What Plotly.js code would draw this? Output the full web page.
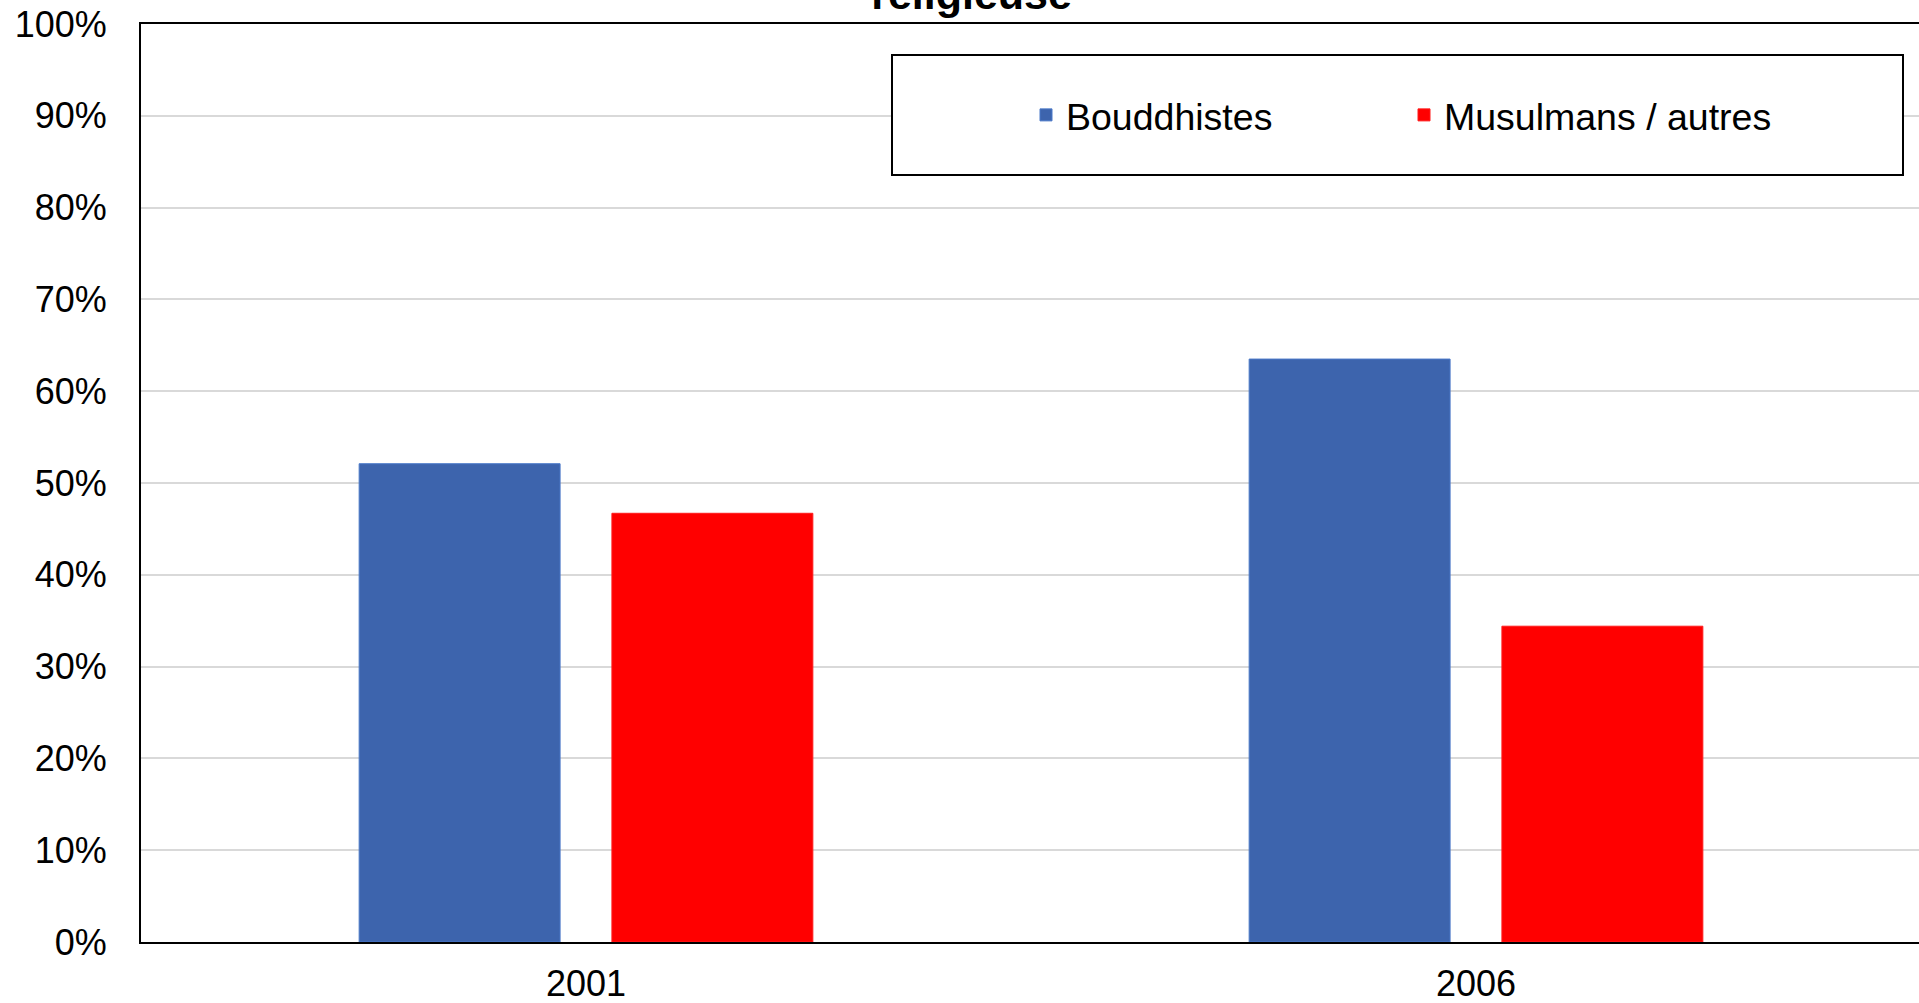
<!DOCTYPE html>
<html>
<head>
<meta charset="utf-8">
<script src="https://cdn.plot.ly/plotly-3.0.1.min.js"></script>
<style>
html,body{margin:0;padding:0;overflow:hidden;background:#fff;width:1919px;height:1003px;}
#chart{position:absolute;left:0;top:-60px;width:1930px;height:1063px;}
</style>
</head>
<body>
<div id="chart"></div>
<script>
const years = ['2001', '2006'];
const bouddhistes = [52.1, 63.5];
const musulmans = [46.7, 34.4];
const seriesNames = ['Bouddhistes', 'Musulmans / autres'];
const yTicks = [0, 10, 20, 30, 40, 50, 60, 70, 80, 90, 100];
const titleText = 'religieuse';

const FONT = 'Arial, "Liberation Sans", sans-serif';

const traces = [
  {type: 'bar', name: seriesNames[0], x: years, y: bouddhistes,
   marker: {color: '#3D64AD', line: {color: '#4A78C8', width: 1}}},
  {type: 'bar', name: seriesNames[1], x: years, y: musulmans,
   marker: {color: '#FF0000', line: {color: '#FF1A1A', width: 1}}}
];

const layout = {
  width: 1930, height: 1063,
  margin: {l: 141, r: 9, t: 84, b: 61},
  paper_bgcolor: '#ffffff', plot_bgcolor: '#ffffff',
  font: {family: FONT, size: 36, color: '#000000'},
  title: {text: '<b>' + titleText + '</b>', font: {family: FONT, size: 43, color: '#000000'},
          x: 0.5034, xanchor: 'center', xref: 'container', y: 0.935, yanchor: 'bottom', yref: 'container'},
  barmode: 'group', bargap: 0.432, bargroupgap: 0.205,
  showlegend: true,
  legend: {orientation: 'h', x: (1026 - 141) / 1780, xanchor: 'left', xref: 'paper',
           y: (942 - 115) / 918, yanchor: 'middle', yref: 'paper',
           bgcolor: 'rgba(0,0,0,0)', borderwidth: 0, entrywidth: 333,
           font: {family: FONT, size: 37.5, color: '#000000'}},
  xaxis: {type: 'category', showline: true, linecolor: '#000000', linewidth: 2, mirror: true,
          showgrid: false, ticks: '', tickfont: {family: FONT, size: 36, color: '#000000'},
          ticklabelstandoff: 9, zeroline: false, fixedrange: true},
  yaxis: {range: [0, 100], tickvals: yTicks, ticktext: yTicks.map(v => v + '%'),
          showline: true, linecolor: '#000000', linewidth: 2, mirror: true,
          showgrid: true, gridcolor: '#D9D9D9', gridwidth: 2, zeroline: false, ticks: '',
          tickfont: {family: FONT, size: 36, color: '#000000'}, ticklabelstandoff: 25, fixedrange: true},
  shapes: [{type: 'rect', xref: 'paper', yref: 'paper', layer: 'above',
            x0: (892 - 141) / 1780, x1: (1903 - 141) / 1780,
            y0: (942 - 175) / 918, y1: (942 - 55) / 918,
            line: {color: '#000000', width: 2}, fillcolor: '#ffffff'}]
};

Plotly.newPlot('chart', traces, layout, {displayModeBar: false, staticPlot: true});
</script>
</body>
</html>
